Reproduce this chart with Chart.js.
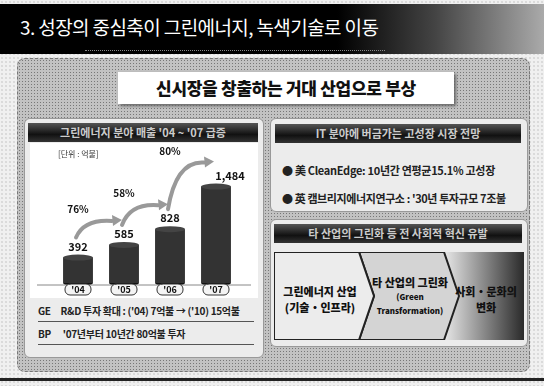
<!DOCTYPE html>
<html>
<head>
<meta charset="utf-8">
<script src="https://cdn.jsdelivr.net/npm/chart.js@4"></script>
<style>
    body { margin: 0; width: 544px; height: 386px; overflow: hidden; position: relative;
        font-family: "Noto Sans CJK KR", "Noto Sans", sans-serif;
        background-color: #f0f0f0;
        background-image: radial-gradient(#aaa 0.5px, transparent 0.8px);
        background-size: 4px 4px; }
    .abs { position: absolute; }
    #titleBar { left: 0; top: 4px; width: 544px; height: 50px;
        background: linear-gradient(90deg, #000 0%, #000 62%, #444 80%, #aaa 100%); }
    #titleText { left: 20px; top: 13px; color: #fff; font-size: 19px; letter-spacing: -0.6px; }
    #titleLine { left: 85px; top: 50px; width: 300px; border-top: 1px dotted #888; }
    #mainPanel { left: 17px; top: 58px; width: 511px; height: 312px; border: 1px dashed #777; border-radius: 8px;
        background-color: #c2c2c2;
        background-image: radial-gradient(#777 0.7px, transparent 1px);
        background-size: 3px 3px; }
    #subTitle { left: 118px; top: 72px; width: 336px; height: 32px; background: #fff;
        box-shadow: 2px 2px 3px #666; text-align: center; line-height: 32px;
        font-weight: 900; font-size: 17px; color: #111; letter-spacing: -0.3px; }
    .panel { background: #ececec; border: 1px solid #999; border-radius: 6px; }
    .head { background: linear-gradient(180deg, #555, #111 60%, #333); color: #ccc; font-size: 11px;
        font-weight: bold; text-align: center; line-height: 19px; height: 19px; }
    .row { font-size: 10px; font-weight: bold; color: #222; letter-spacing: -0.3px; white-space: nowrap; }
    .chev { font-size: 11px; font-weight: 900; color: #111; text-align: center; }
</style>
</head>
<body>
<div id="titleBar" class="abs"></div>
<div id="titleText" class="abs">3. 성장의 중심축이 그린에너지, 녹색기술로 이동</div>
<div id="titleLine" class="abs"></div>
<div id="mainPanel" class="abs"></div>
<div id="subTitle" class="abs">신시장을 창출하는 거대 산업으로 부상</div>

<div class="abs panel" style="left:24px; top:118px; width:238px; height:238px;"></div>
<div class="abs head" style="left:28px; top:123px; width:230px;">그린에너지 분야 매출 '04 ~ '07 급증</div>
<div class="abs" style="left:30px; top:143px; width:228px; height:155px; background:#fff;"></div>
<div class="abs" style="left:30px; top:143px; width:228px; height:155px;"><canvas id="barChart" width="228" height="155"></canvas></div>
<div class="abs row" style="left:38px; top:303px; width:216px; border-bottom:1px solid #555; padding-bottom:3px;">GE&nbsp;&nbsp;&nbsp;&nbsp;&nbsp;R&amp;D 투자 확대 : ('04) 7억불 → ('10) 15억불</div>
<div class="abs row" style="left:38px; top:326px; width:216px; border-bottom:1px solid #555; padding-bottom:3px;">BP&nbsp;&nbsp;&nbsp;&nbsp;&nbsp;&nbsp;'07년부터 10년간 80억불 투자</div>

<div class="abs panel" style="left:270px; top:118px; width:256px; height:92px;"></div>
<div class="abs head" style="left:275px; top:124px; width:246px;">IT 분야에 버금가는 고성장 시장 전망</div>
<div class="abs row" style="left:282px; top:162px; font-size:11px;">● 美 CleanEdge: 10년간 연평균15.1% 고성장</div>
<div class="abs row" style="left:282px; top:190px; font-size:11px; letter-spacing:-0.4px;">● 英 캠브리지에너지연구소 : '30년 투자규모 7조불</div>

<div class="abs panel" style="left:270px; top:219px; width:256px; height:126px;"></div>
<div class="abs head" style="left:274px; top:224px; width:248px;">타 산업의 그린화 등 전 사회적 혁신 유발</div>
<div class="abs" style="left:274px; top:252px; width:250px; height:88px;">
    <svg width="250" height="88">
        <defs>
            <linearGradient id="g3" x1="0" x2="1" y1="0" y2="0">
                <stop offset="0" stop-color="#e8e8e8"/>
                <stop offset="1" stop-color="#2a2a2a"/>
            </linearGradient>
        </defs>
        <polygon points="170,0 250,0 250,88 170,88 185,44" fill="url(#g3)"/>
        <polygon points="85,0 170,0 185,44 170,88 85,88 100,44" fill="#d4d4d4" stroke="#222" stroke-width="2"/>
        <polygon points="0,0 85,0 100,44 85,88 0,88" fill="#ececec" stroke="#222" stroke-width="2"/>
    </svg>
</div>
<div class="abs chev" style="left:274px; top:283px; width:92px;">그린에너지 산업<br>(기술・인프라)</div>
<div class="abs chev" style="left:368px; top:276px; width:84px; line-height:13px;">타 산업의 그린화<br><span style="font-size:8px;">(Green<br>Transformation)</span></div>
<div class="abs chev" style="left:452px; top:283px; width:68px;">사회・문화의<br>변화</div>

<div class="abs" style="left:0; top:378px; width:544px; height:3px; background:#222;"></div>

<script>
const years = ["'04", "'05", "'06", "'07"];
const sales = [392, 585, 828, 1484];
const saleLabels = ['392', '585', '828', '1,484'];
const growthLabels = ['76%', '58%', '80%'];
const unitLabel = '[단위 : 억불]';

// cylinder shading across each bar
function cylinderFill(context) {
    const el = context.element;
    if (!el || el.width === undefined) return '#333';
    const c = context.chart.ctx;
    const x0 = el.x - el.width / 2;
    const g = c.createLinearGradient(x0, 0, x0 + el.width, 0);
    g.addColorStop(0, '#111');
    g.addColorStop(0.45, '#8a8a8a');
    g.addColorStop(0.6, '#666');
    g.addColorStop(1, '#111');
    return g;
}

const decorPlugin = {
    id: 'decor',
    afterDatasetsDraw(chart) {
        const c = chart.ctx;
        const meta = chart.getDatasetMeta(0);
        const yBase = chart.scales.y.getPixelForValue(0);
        c.save();
        // tops of cylinders
        meta.data.forEach((bar) => {
            c.beginPath();
            c.ellipse(bar.x, bar.y, bar.width / 2, 3, 0, 0, Math.PI * 2);
            c.fillStyle = '#444';
            c.fill();
            c.beginPath();
            c.ellipse(bar.x, yBase, bar.width / 2, 3, 0, 0, Math.PI);
            c.fillStyle = '#111';
            c.fill();
        });
        // baseline
        c.strokeStyle = '#888';
        c.lineWidth = 1;
        c.beginPath();
        c.moveTo(chart.chartArea.left - 18, yBase + 2);
        c.lineTo(chart.chartArea.right + 12, yBase + 2);
        c.stroke();
        // value labels
        c.fillStyle = '#111';
        c.font = 'bold 11px "Noto Sans CJK KR"';
        c.textAlign = 'center';
        meta.data.forEach((bar, i) => {
            let dx = i === 3 ? 14 : 0;
            c.fillText(saleLabels[i], bar.x + dx, bar.y - 7);
        });
        // growth swooshes and labels
        for (let i = 0; i < growthLabels.length; i++) {
            const a = meta.data[i];
            const b = meta.data[i + 1];
            const sx = a.x - 2, sy = a.y - 20;
            const ex = b.x - 4, ey = b.y - 24;
            c.strokeStyle = '#999';
            c.lineWidth = 4;
            c.lineCap = 'round';
            c.beginPath();
            c.moveTo(sx, sy);
            c.quadraticCurveTo(sx + 8, ey - 2, ex - 8, ey);
            c.stroke();
            c.fillStyle = '#999';
            c.beginPath();
            c.moveTo(ex + 2, ey - 1);
            c.lineTo(ex - 8, ey - 6);
            c.lineTo(ex - 7, ey + 5);
            c.closePath();
            c.fill();
            c.fillStyle = '#111';
            c.font = 'bold 10px "Noto Sans CJK KR"';
            c.fillText(growthLabels[i], sx + 2, ey - 8);
        }
        // year labels in rounded boxes
        c.font = 'bold 9px "Noto Sans CJK KR"';
        meta.data.forEach((bar, i) => {
            const bw = 26, bh = 11;
            const bx = bar.x - bw / 2, by = yBase + 1;
            c.beginPath();
            c.roundRect(bx, by, bw, bh, 5);
            c.fillStyle = '#f4f4f4';
            c.fill();
            c.strokeStyle = '#333';
            c.lineWidth = 1;
            c.stroke();
            c.fillStyle = '#111';
            c.fillText(years[i], bar.x, by + 9);
        });
        // unit
        c.font = '8px "Noto Sans CJK KR"';
        c.textAlign = 'left';
        c.fillStyle = '#333';
        c.fillText(unitLabel, 28, 14);
        c.restore();
    }
};

new Chart(document.getElementById('barChart').getContext('2d'), {
    type: 'bar',
    data: {
        labels: years,
        datasets: [{
            data: sales,
            backgroundColor: cylinderFill,
            borderWidth: 0,
            barPercentage: 0.65,
            categoryPercentage: 1
        }]
    },
    options: {
        responsive: false,
        animation: false,
        layout: {
            padding: { left: 25, right: 19, top: 10, bottom: 15 }
        },
        plugins: {
            legend: { display: false },
            tooltip: { enabled: false }
        },
        scales: {
            x: { display: false },
            y: { display: false, min: 0, max: 2000 }
        }
    },
    plugins: [decorPlugin]
});
</script>
</body>
</html>
